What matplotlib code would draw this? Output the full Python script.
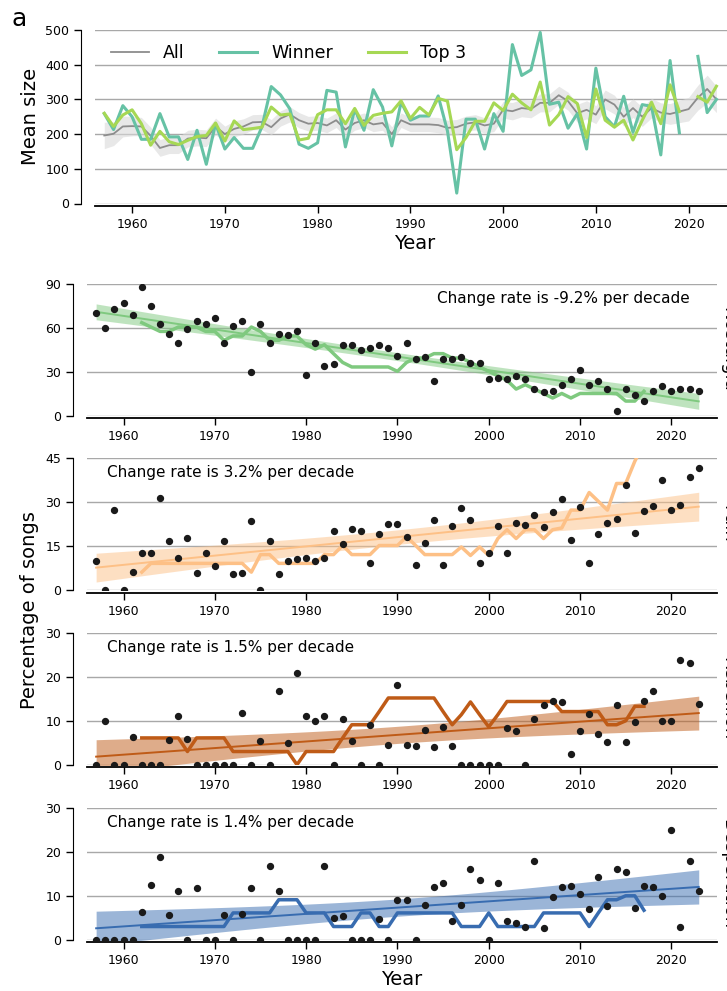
import numpy as np
import matplotlib.pyplot as plt

# years of the contest (2020 had no final, so winner / top 3 are missing)
years = np.arange(1957, 2024)
roll_years = np.arange(1962, 2018)

# panel a: mean size
size_all = [196, 201, 222, 223, 222, 195, 160, 168, 168, 187,
            190, 188, 222, 200, 215, 222, 234, 235, 220, 245,
            257, 240, 230, 232, 225, 240, 213, 232, 240, 228,
            232, 200, 240, 228, 228, 228, 226, 218, 220, 230,
            234, 225, 230, 270, 266, 275, 272, 290, 290, 312,
            295, 260, 270, 256, 300, 285, 250, 275, 250, 275,
            262, 258, 265, 272, 305, 330, 300]
size_all_ci = [38, 34, 30, 28, 26, 25, 24, 24, 24, 24,
               24, 24, 24, 23, 23, 22, 22, 22, 22, 22,
               22, 22, 21, 21, 21, 21, 21, 21, 21, 21,
               21, 21, 21, 21, 21, 21, 22, 22, 22, 22,
               22, 22, 23, 24, 25, 25, 25, 26, 26, 26,
               26, 26, 26, 26, 27, 27, 27, 27, 28, 28,
               28, 30, 32, 34, 36, 40, 38]
size_winner = [259, 213, 282, 250, 185, 185, 259, 192, 192, 127,
               211, 113, 230, 157, 190, 159, 159, 221, 337, 313,
               273, 171, 159, 175, 326, 321, 163, 271, 211, 328,
               278, 166, 292, 240, 252, 252, 310, 209, 30, 243,
               243, 157, 259, 208, 458, 369, 385, 493, 286, 292,
               217, 259, 157, 390, 250, 221, 309, 205, 285, 280,
               140, 412, 204, np.nan, 424, 262, 300]
size_top3 = [260, 222, 255, 270, 230, 168, 208, 178, 170, 182,
             193, 196, 232, 180, 238, 213, 216, 220, 278, 255,
             258, 183, 188, 256, 270, 270, 230, 274, 225, 254,
             260, 264, 296, 245, 277, 255, 303, 295, 155, 190,
             237, 237, 290, 268, 315, 290, 270, 350, 226, 256,
             308, 288, 190, 330, 240, 220, 240, 183, 240, 292,
             230, 342, 265, np.nan, 308, 292, 338]

# theme panels: percentage of songs per theme (dots) and 11-year rolling share of top 3
themes = ['Nostalgia', 'Pain', 'Rebellion', 'Desperation']
theme_colors = ['#7fc97f', '#fdc086', '#bf5b17', '#386cb0']
theme_yticks = [[0, 30, 60, 90], [0, 15, 30, 45], [0, 10, 20, 30], [0, 10, 20, 30]]
theme_rate = ['Change rate is -9.2% per decade', 'Change rate is 3.2% per decade',
              'Change rate is 1.5% per decade', 'Change rate is 1.4% per decade']

nostalgia = [70, 60, 73, 77, 69, 88, 75, 63, 56, 50,
             59, 65, 63, 67, 50, 61, 65, 30, 63, 50,
             56, 55, 58, 28, 50, 34, 35, 48, 48, 45,
             46, 48, 46, 41, 50, 39, 40, 24, 39, 39,
             40, 36, 36, 25, 26, 25, 27, 25, 18, 16,
             17, 21, 25, 31, 21, 24, 18, 3, 18, 14,
             10, 17, 20, 17, 18, 18, 17]
pain = [10, 0, 27.3, 0, 6.3, 12.5, 12.5, 31.3, 16.7, 11.1,
        17.6, 5.9, 12.5, 8.3, 16.7, 5.6, 5.9, 23.5, 0, 16.7,
        5.6, 10, 10.5, 11.1, 10, 11.1, 20, 15.8, 21, 20,
        9.1, 19, 22.7, 22.7, 18.2, 8.7, 16, 24, 8.7, 21.7,
        28, 24, 9.1, 12.5, 21.7, 12.5, 23, 22.2, 25.6, 21.6,
        26.8, 31, 17, 28.2, 9.3, 19, 23, 24.3, 35.9, 19.4,
        26.9, 28.6, 37.5, 27.5, 29, 38.5, 41.7]
rebellion = [0, 10, 0, 0, 6.2, 0, 0, 0, 5.6, 11.1,
             5.9, 0, 0, 0, 0, 0, 11.8, 0, 5.3, 0,
             16.7, 5, 21, 11.1, 10, 11.1, 0, 10.5, 5.3, 0,
             9.1, 0, 4.5, 18.2, 4.5, 4.3, 8, 4, 8.7, 4.3,
             0, 0, 0, 0, 0, 8.3, 7.7, 0, 10.3, 13.5,
             14.6, 14.3, 2.4, 7.7, 11.6, 7.1, 5.1, 13.5, 5.1, 9.8,
             14.6, 16.7, 10, 10, 23.8, 23.1, 13.9]
desperation = [0, 0, 0, 0, 0, 6.3, 12.5, 18.8, 5.6, 11.1,
               0, 11.8, 0, 0, 5.6, 0, 5.9, 11.8, 0, 16.7,
               11.1, 0, 0, 0, 0, 16.7, 5, 5.3, 0, 0,
               0, 4.8, 0, 9.1, 9.1, 0, 8, 12, 13, 4.3,
               8, 16, 13.6, 0, 13, 4.2, 3.8, 2.8, 18, 2.7,
               9.8, 11.9, 12.2, 10.3, 7, 14.3, 7.7, 16.2, 15.4, 7.3,
               12.2, 12, 10, 25, 2.8, 18, 11.1]

nostalgia_roll = [63.6, 60.6, 57.6, 57.6, 60.6, 60.6, 60.6, 57.6, 57.6, 51.5,
                  54.5, 54.5, 60.6, 57.6, 51.5, 51.5, 54.5, 54.5, 48.5, 45.5,
                  48.5, 42.4, 36.4, 33.3, 33.3, 33.3, 33.3, 33.3, 30.3, 36.4,
                  39.4, 39.4, 42.4, 42.4, 39.4, 39.4, 36.4, 33.3, 30.3, 27.3,
                  24.2, 18.2, 21.2, 18.2, 15.2, 12.1, 15.2, 12.1, 15.2, 15.2,
                  15.2, 15.2, 15.2, 10, 10, 16.7]
pain_roll = [6.1, 9.1, 9.1, 9.1, 9.1, 9.1, 9.1, 9.1, 9.1, 9.1,
             9.1, 9.1, 6.1, 12.1, 12.1, 9.1, 9.1, 9.1, 9.1, 9.1,
             12.1, 12.1, 15.2, 12.1, 12.1, 12.1, 15.2, 15.2, 15.2, 18.2,
             15.2, 12.1, 12.1, 12.1, 12.1, 14.7, 11.8, 14.7, 11.8, 17.6,
             20.6, 17.6, 20.6, 20.6, 17.6, 20.6, 21.2, 27.3, 27.3, 33.3,
             30.3, 27.3, 36.4, 36.4, 44, 50]
rebellion_roll = [6.1, 6.1, 6.1, 6.1, 6.1, 3.0, 6.1, 6.1, 6.1, 6.1,
                  3.0, 3.0, 3.0, 3.0, 3.0, 3.0, 3.0, 0, 3.0, 3.0,
                  3.0, 3.0, 6.1, 9.1, 9.1, 9.1, 12.1, 15.2, 15.2, 15.2,
                  15.2, 15.2, 15.2, 12.1, 9.1, 11.4, 14.3, 11.4, 8.6, 11.4,
                  14.4, 14.4, 14.4, 14.4, 14.4, 14.4, 12.1, 12.1, 12.1, 12.1,
                  12.1, 9.1, 9.1, 10, 13.3, 13.3]
desperation_roll = [3.0, 3.0, 3.0, 3.0, 3.0, 3.0, 3.0, 3.0, 3.0, 3.0,
                    6.1, 6.1, 6.1, 6.1, 6.1, 9.1, 9.1, 9.1, 6.1, 6.1,
                    6.1, 3.0, 3.0, 3.0, 6.1, 6.1, 3.0, 3.0, 6.1, 6.1,
                    6.1, 6.1, 6.1, 6.1, 6.1, 3.0, 3.0, 3.0, 6.1, 3.0,
                    3.0, 3.0, 3.0, 3.0, 6.1, 6.1, 6.1, 6.1, 6.1, 3.0,
                    6.1, 9.1, 9.1, 10, 10, 6.7]

theme_points = [nostalgia, pain, rebellion, desperation]
theme_rolls = [nostalgia_roll, pain_roll, rebellion_roll, desperation_roll]

plt.rcParams['font.family'] = 'DejaVu Sans'


def style_axes(ax, yticks):
    ax.set_xlim(1956, 2025)
    ax.set_ylim(yticks[0], yticks[-1])
    ax.set_yticks(yticks)
    ax.set_xticks([1960, 1970, 1980, 1990, 2000, 2010, 2020])
    ax.grid(axis='y', color='#a8a8a8', lw=1.0)
    ax.set_axisbelow(True)
    for s in ['top', 'right']:
        ax.spines[s].set_visible(False)
    ax.spines['left'].set_position(('outward', 10))
    ax.spines['bottom'].set_position(('outward', 2))
    ax.spines['bottom'].set_linewidth(1.3)
    ax.tick_params(labelsize=9, length=5, width=1)


fig = plt.figure(figsize=(7.27, 9.91), dpi=100)

# ---- panel a ----
ax = fig.add_axes([95 / 727, 1 - 203.5 / 991, 640 / 727, 173.5 / 991])
style_axes(ax, [0, 100, 200, 300, 400, 500])
lo = np.array(size_all) - np.array(size_all_ci)
hi = np.array(size_all) + np.array(size_all_ci)
ax.fill_between(years, lo, hi, color='#d9d9d9', alpha=0.6, lw=0)
ax.plot(years, size_all, color='#8c8c8c', lw=1.3, label='All')
ax.plot(years, size_winner, color='#66c2a5', lw=2.2, label='Winner')
ax.plot(years, size_top3, color='#a6d854', lw=2.2, label='Top 3')
ax.set_ylabel('Mean size', fontsize=14)
ax.set_xlabel('Year', fontsize=14, labelpad=2)
ax.legend(loc='upper left', ncol=3, frameon=False, fontsize=12.5,
          bbox_to_anchor=(0.0, 1.01), handlelength=2.2, columnspacing=2.0)
fig.text(12 / 727, 1 - 26 / 991, 'a', fontsize=18, va='baseline')

# ---- theme panels ----
tops = [284, 458.3, 633, 808]
x = np.array(years, dtype=float)
for i, name in enumerate(themes):
    h = 131.7
    ax = fig.add_axes([87 / 727, 1 - (tops[i] + h) / 991, 630 / 727, h / 991])
    style_axes(ax, theme_yticks[i])
    c = theme_colors[i]
    y = np.array(theme_points[i], dtype=float)

    # linear fit with confidence band
    b, a = np.polyfit(x, y, 1)
    fit = a + b * x
    resid = y - fit
    n = len(x)
    s = np.sqrt(np.sum(resid ** 2) / (n - 2))
    se = s * np.sqrt(1 / n + (x - x.mean()) ** 2 / np.sum((x - x.mean()) ** 2))
    ax.fill_between(x, fit - 2.8 * se, fit + 2.8 * se, color=c, alpha=0.5, lw=0)
    ax.plot(x, fit, color=c, lw=1.4)

    ax.plot(roll_years, theme_rolls[i], color=c, lw=2.5)
    ax.scatter(years, y, s=18, color='#1a1a1a', zorder=5)

    if i == 0:
        ax.text(0.957, 0.89, theme_rate[i], transform=ax.transAxes,
                ha='right', va='center', fontsize=11)
    else:
        ax.text(0.032, 0.89, theme_rate[i], transform=ax.transAxes,
                ha='left', va='center', fontsize=11)
    # row titles sit at the right margin, cut by the figure edge as in the original
    ax.text(1.003, 0.5, name, transform=ax.transAxes, rotation=270,
            ha='left', va='center', fontsize=13, clip_on=False)
    if i == 3:
        ax.set_xlabel('Year', fontsize=14, labelpad=2)

fig.text(30 / 727, 1 - 610 / 991, 'Percentage of songs', rotation=90,
         ha='center', va='center', fontsize=14)

plt.savefig('out.png', dpi=100)
